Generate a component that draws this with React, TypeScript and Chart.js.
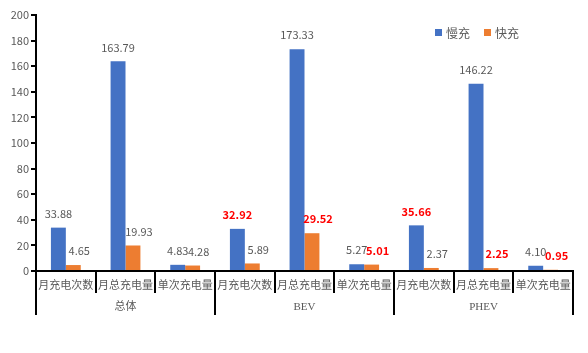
import React, { useEffect, useRef } from 'react';
import { Chart, registerables } from 'chart.js';

Chart.register(...registerables);

const categories = ['月充电次数', '月总充电量', '单次充电量', '月充电次数', '月总充电量', '单次充电量', '月充电次数', '月总充电量', '单次充电量'];
const groups = ['总体', 'BEV', 'PHEV'];
const seriesNames = ['慢充', '快充'];
const slowValues = [33.88, 163.79, 4.83, 32.92, 173.33, 5.27, 35.66, 146.22, 4.10];
const fastValues = [4.65, 19.93, 4.28, 5.89, 29.52, 5.01, 2.37, 2.25, 0.95];
const slowHighlight = [false, false, false, true, false, false, true, false, false];
const fastHighlight = [false, false, false, false, true, true, false, true, true];
const yMin = 0;
const yMax = 200;
const yStep = 20;

const BLUE = '#4472C4';
const ORANGE = '#ED7D31';
const GREY = '#595959';
const CJK = "'Noto Sans CJK SC', sans-serif";

const decorPlugin = {
  id: 'decor',
  afterDatasetsDraw(chart: any) {
    const ctx = chart.ctx;
    const sets = [
      { vals: slowValues, hl: slowHighlight, dx: 0 },
      { vals: fastValues, hl: fastHighlight, dx: 6 },
    ];
    ctx.save();
    ctx.textAlign = 'center';
    ctx.textBaseline = 'middle';
    sets.forEach((s, di) => {
      const meta = chart.getDatasetMeta(di);
      meta.data.forEach((el: any, i: number) => {
        const red = s.hl[i];
        ctx.font = `${red ? 'bold ' : ''}11px ${CJK}`;
        ctx.fillStyle = red ? '#FF0000' : GREY;
        ctx.fillText(s.vals[i].toFixed(2), el.x + s.dx, el.y - 14);
      });
    });
    ctx.restore();
  },
  afterDraw(chart: any) {
    const ctx = chart.ctx;
    const xs = chart.scales.x;
    const n = categories.length;
    const w = (xs.right - xs.left) / n;
    const top = xs.top;
    ctx.save();
    ctx.strokeStyle = '#000000';
    ctx.lineWidth = 2;
    for (let i = 0; i <= n; i++) {
      const x = Math.round(xs.left + i * w);
      const isGroup = i % 3 === 0;
      ctx.beginPath();
      ctx.moveTo(x, top);
      ctx.lineTo(x, isGroup ? top + 44 : top + 22);
      ctx.stroke();
    }
    // legend
    const legendItems = [
      { name: seriesNames[0], color: BLUE, x: 435 },
      { name: seriesNames[1], color: ORANGE, x: 484 },
    ];
    ctx.font = `12px ${CJK}`;
    ctx.textAlign = 'left';
    ctx.textBaseline = 'middle';
    legendItems.forEach((it) => {
      ctx.fillStyle = it.color;
      ctx.fillRect(it.x, 29, 7, 7);
      ctx.fillStyle = GREY;
      ctx.fillText(it.name, it.x + 11, 33);
    });
    ctx.restore();
  },
};

export default function App() {
  const ref = useRef<HTMLCanvasElement | null>(null);
  useEffect(() => {
    document.body.style.margin = '0';
    const canvas = ref.current;
    if (!canvas) return;
    const chart = new Chart(canvas, {
      type: 'bar',
      data: {
        labels: categories,
        datasets: [
          { label: seriesNames[0], data: slowValues, backgroundColor: BLUE, categoryPercentage: 0.5, barPercentage: 1 },
          { label: seriesNames[1], data: fastValues, backgroundColor: ORANGE, categoryPercentage: 0.5, barPercentage: 1 },
        ],
      },
      plugins: [decorPlugin],
      options: {
        animation: false,
        responsive: false,
        devicePixelRatio: 1,
        layout: { padding: { left: 0, right: 15, top: 15, bottom: 38 } },
        plugins: { legend: { display: false }, tooltip: { enabled: false } },
        scales: {
          x: {
            type: 'category',
            position: 'bottom',
            offset: true,
            grid: { display: false, drawTicks: false, tickLength: 0 },
            border: { display: true, color: '#000000', width: 2 },
            ticks: { autoSkip: false, maxRotation: 0, minRotation: 0, padding: 7, color: GREY, font: { family: CJK, size: 11 } },
            afterFit: (s: any) => { s.height = 22; },
          },
          x2: {
            type: 'category',
            position: 'bottom',
            display: true,
            labels: groups,
            offset: true,
            grid: { display: false, drawTicks: false, tickLength: 0 },
            border: { display: false },
            ticks: { autoSkip: false, maxRotation: 0, minRotation: 0, padding: 8, color: GREY, font: { family: "'Liberation Serif', 'Noto Sans CJK SC', serif", size: 11 } },
            afterFit: (s: any) => { s.height = 22; },
          },
          y: {
            min: yMin,
            max: yMax,
            ticks: { stepSize: yStep, padding: 2, color: GREY, font: { family: CJK, size: 11 } },
            grid: { display: true, drawOnChartArea: false, drawTicks: true, tickLength: 5, color: '#000000', lineWidth: 2 },
            border: { display: true, color: '#000000', width: 2 },
            afterFit: (s: any) => { s.width = 36; },
          },
        },
      },
    } as any);
    return () => chart.destroy();
  }, []);
  return (
    <div style={{ width: 588, height: 353, position: 'relative', background: '#ffffff' }}>
      <canvas ref={ref} width={588} height={353} />
    </div>
  );
}
